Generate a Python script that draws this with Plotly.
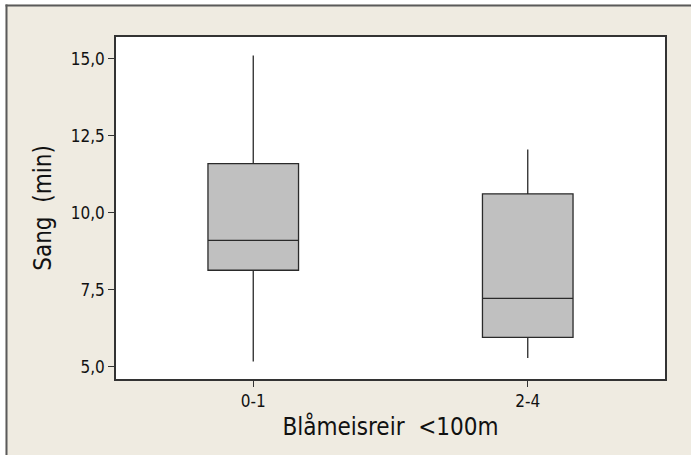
import plotly.graph_objects as go

categories = ["0-1", "2-4"]
q1 = [8.13, 5.95]
median = [9.10, 7.22]
q3 = [11.59, 10.61]
lower_whisker = [5.17, 5.28]
upper_whisker = [15.10, 12.05]

y_tickvals = [5.0, 7.5, 10.0, 12.5, 15.0]
y_ticktext = ["5,0", "7,5", "10,0", "12,5", "15,0"]

x_title = "Blåmeisreir\u00a0 <100m"
y_title = "Sang\u00a0 (min)"

W, H = 691, 455
L, R, T, B = 116, 665, 37, 379

def px_x(p):
    return (p - L) / (R - L)

def px_y(p):
    return (B - p) / (B - T)

FONT = "Tahoma, 'DejaVu Sans Condensed', 'DejaVu Sans', sans-serif"

fig = go.Figure()
fig.add_trace(go.Box(
    x=categories,
    q1=q1, median=median, q3=q3,
    lowerfence=lower_whisker, upperfence=upper_whisker,
    fillcolor="#C0C0C0",
    line=dict(color="#2a2a2a", width=1.3),
    whiskerwidth=0,
    width=0.33,
    boxpoints=False,
    hoverinfo="skip",
    showlegend=False,
))

fig.update_layout(
    width=W, height=H,
    margin=dict(l=L, r=W - R, t=T, b=H - B, pad=0),
    paper_bgcolor="#EFEBE1",
    plot_bgcolor="#FFFFFF",
    font=dict(family=FONT, color="#111111"),
    showlegend=False,
    xaxis=dict(
        type="category", range=[-0.5, 1.5],
        showline=True, mirror=True, linecolor="#333333", linewidth=1.5,
        showgrid=False, zeroline=False,
        ticks="outside", ticklen=6, tickcolor="#333333", tickwidth=1,
        tickfont=dict(size=17, family=FONT, color="#111111"),
        title=dict(text=x_title, font=dict(size=24, family=FONT, color="#111111"), standoff=8),
    ),
    yaxis=dict(
        range=[4.60, 15.70],
        tickvals=y_tickvals, ticktext=y_ticktext,
        showline=True, mirror=True, linecolor="#333333", linewidth=1.5,
        showgrid=False, zeroline=False,
        ticks="outside", ticklen=6, tickcolor="#333333", tickwidth=1,
        tickfont=dict(size=17, family=FONT, color="#111111"),
        title=dict(text=y_title, font=dict(size=24, family=FONT, color="#111111"), standoff=12),
    ),
    shapes=[
        dict(type="rect", xref="paper", yref="paper", x0=px_x(-5), x1=px_x(5.5), y0=px_y(H + 5), y1=px_y(-5),
             fillcolor="#FFFFFF", line=dict(width=0), layer="above"),
        dict(type="rect", xref="paper", yref="paper", x0=px_x(-5), x1=px_x(W + 5), y0=px_y(4.5), y1=px_y(-5),
             fillcolor="#FFFFFF", line=dict(width=0), layer="above"),
        dict(type="line", xref="paper", yref="paper", x0=px_x(6.5), x1=px_x(6.5), y0=px_y(H + 5), y1=px_y(4.5),
             line=dict(color="#5a5a5a", width=2), layer="above"),
        dict(type="line", xref="paper", yref="paper", x0=px_x(5.5), x1=px_x(W + 5), y0=px_y(5.5), y1=px_y(5.5),
             line=dict(color="#5a5a5a", width=2), layer="above"),
    ],
)

fig.write_html("out.html")
